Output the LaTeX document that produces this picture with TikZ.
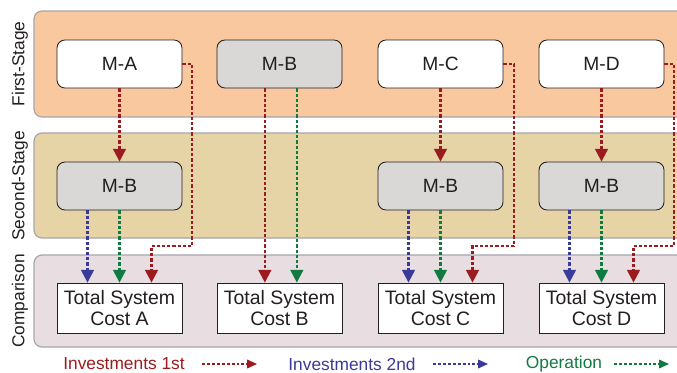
\documentclass[tikz,border=0pt]{standalone}
\usepackage{fontspec}
\setmainfont{Liberation Sans}
\usetikzlibrary{arrows.meta}
\definecolor{stageone}{RGB}{250,200,158}
\definecolor{stagetwo}{RGB}{230,211,166}
\definecolor{stagecmp}{RGB}{232,222,226}
\definecolor{bandline}{RGB}{166,166,170}
\definecolor{boxgray}{RGB}{217,216,214}
\definecolor{inkdark}{RGB}{35,31,32}
\definecolor{invred}{RGB}{155,27,31}
\definecolor{invblue}{RGB}{58,58,154}
\definecolor{opgreen}{RGB}{16,122,64}

\begin{document}
\begin{tikzpicture}[x=0.75pt,y=0.75pt,yscale=-1,xscale=1,
    band/.style={draw=bandline,line width=0.9pt,rounded corners=6pt},
    model/.style={draw=inkdark,line width=0.65pt,rounded corners=6pt,minimum width=93.75pt,minimum height=36pt,
      font=\fontsize{14.4}{17}\selectfont,text=inkdark},
    costbox/.style={draw=inkdark,line width=0.6pt,fill=white,minimum width=93.75pt,minimum height=37.5pt,inner sep=0pt,
      align=center,font=\fontsize{14.6}{16}\selectfont,text=inkdark},
    rowlabel/.style={rotate=90,font=\fontsize{13}{15}\selectfont,text=inkdark},
    flow/.style={line width=1.6pt,dash pattern=on 2.4pt off 1.5pt,-{Triangle[width=9.5pt,length=9.5pt]}},
    inv1/.style={flow,color=invred},
    inv2/.style={flow,color=invblue},
    oper/.style={flow,color=opgreen},
    keyflow/.style={line width=1.2pt,dash pattern=on 2.2pt off 1.5pt,-{Triangle[width=6.5pt,length=7.5pt]}},
    keytext/.style={font=\fontsize{13}{15}\selectfont}]
    \useasboundingbox (0,0) rectangle (677,372);

    % stage bands
    \draw[band,fill=stageone] (34,11) rectangle (700,117);
    \draw[band,fill=stagetwo] (34,133) rectangle (700,238);
    \draw[band,fill=stagecmp] (34,255) rectangle (700,347);

    % row labels
    \node[rowlabel] (lfirst) at (20,64) {First-Stage};
    \node[rowlabel] (lsecond) at (20,186) {Second-Stage};
    \node[rowlabel] (lcmp) at (20,301) {Comparison};

    % first-stage models
    \node[model,fill=white] (ma) at (119.5,64) {M-A};
    \node[model,fill=boxgray] (mb) at (279.5,64) {M-B};
    \node[model,fill=white] (mc) at (440.5,64) {M-C};
    \node[model,fill=white] (md) at (601.5,64) {M-D};

    % second-stage models
    \node[model,fill=boxgray] (sa) at (119.5,186) {M-B};
    \node[model,fill=boxgray] (sc) at (440.5,186) {M-B};
    \node[model,fill=boxgray] (sd) at (601.5,186) {M-B};

    % total system cost
    \node[costbox] (ca) at (119.5,308) {Total System\\Cost A};
    \node[costbox] (cb) at (279.5,308) {Total System\\Cost B};
    \node[costbox] (cc) at (440.5,308) {Total System\\Cost C};
    \node[costbox] (cd) at (601.5,308) {Total System\\Cost D};

    % routing corners
    \coordinate (ka) at (192,246);
    \coordinate (kc) at (514,246);
    \coordinate (kd) at (674,246);

    % first stage to second stage
    \draw[inv1] (ma) -- (sa);
    \draw[inv1] (mc) -- (sc);
    \draw[inv1] (md) -- (sd);

    % into the comparison
    \draw[inv2] ([xshift=-24pt]sa.south) -- ([xshift=-24pt]ca.north);
    \draw[oper] (sa) -- (ca);
    \draw[inv1] (ma.east) -| (ka) -| ([xshift=24pt]ca.north);

    \draw[inv1] ([xshift=-11pt]mb.south) -- ([xshift=-11pt]cb.north);
    \draw[oper] ([xshift=13pt]mb.south) -- ([xshift=13pt]cb.north);

    \draw[inv2] ([xshift=-24pt]sc.south) -- ([xshift=-24pt]cc.north);
    \draw[oper] (sc) -- (cc);
    \draw[inv1] (mc.east) -| (kc) -| ([xshift=24pt]cc.north);

    \draw[inv2] ([xshift=-24pt]sd.south) -- ([xshift=-24pt]cd.north);
    \draw[oper] (sd) -- (cd);
    \draw[inv1] (md.east) -| (kd) -| ([xshift=24pt]cd.north);

    % legend
    \node[keytext,text=invred] (k1) at (124,364) {Investments 1st};
    \node[keytext,text=invblue] (k2) at (352,364) {Investments 2nd};
    \node[keytext,text=opgreen] (k3) at (564,364) {Operation};
    \coordinate (k1a) at (202,364); \coordinate (k1b) at (257,364);
    \coordinate (k2a) at (433,364); \coordinate (k2b) at (488,364);
    \coordinate (k3a) at (614,364); \coordinate (k3b) at (669,364);
    \draw[keyflow,color=invred] (k1a) -- (k1b);
    \draw[keyflow,color=invblue] (k2a) -- (k2b);
    \draw[keyflow,color=opgreen] (k3a) -- (k3b);
\end{tikzpicture}
\end{document}
